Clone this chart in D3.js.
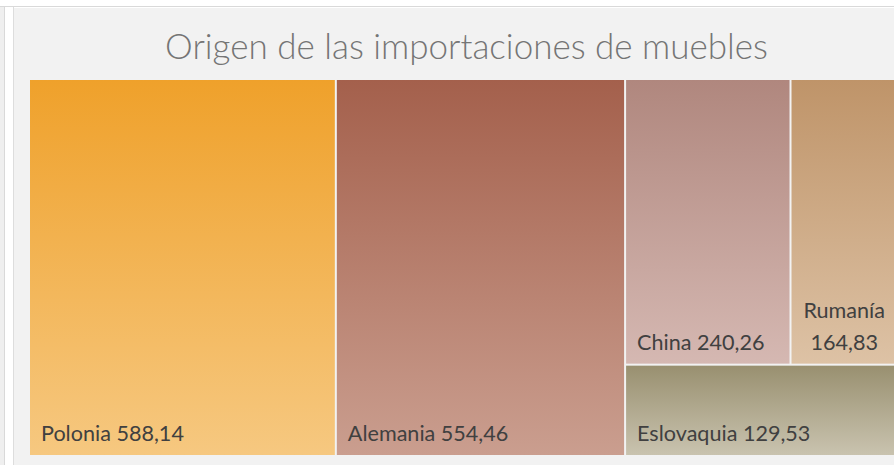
<!DOCTYPE html>
<html><head><meta charset="utf-8">
<script src="https://cdn.jsdelivr.net/npm/d3@7"></script>
<style>html,body{margin:0;padding:0;background:#fff;overflow:hidden}svg{display:block}</style>
</head><body>
<script>
const title = "Origen de las importaciones de muebles";
const categories = ["Polonia", "Alemania", "China", "Rumanía", "Eslovaquia"];
const values = [588.14, 554.46, 240.26, 164.83, 129.53];
const topColors = ["#EFA12B", "#A4604C", "#B0877E", "#BF9469", "#999070"];
const bottomColors = ["#F6C880", "#CA9E8F", "#D5B8B2", "#DDC2A5", "#C9C3AF"];

const W = 894, H = 465;
const svg = d3.select("body").append("svg").attr("width", W).attr("height", H);

// frame
svg.append("rect").attr("x", 0).attr("y", 0).attr("width", W).attr("height", H).attr("fill", "#fff");
svg.append("rect").attr("x", 0).attr("y", 7).attr("width", 4).attr("height", H).attr("fill", "#EFEFEF");
svg.append("rect").attr("x", 14).attr("y", 8).attr("width", W).attr("height", H).attr("fill", "#F2F2F2");
svg.append("line").attr("x1", 0).attr("x2", W).attr("y1", 6.5).attr("y2", 6.5).attr("stroke", "#D9D9D9");
svg.append("line").attr("x1", 4.5).attr("x2", 4.5).attr("y1", 7).attr("y2", H).attr("stroke", "#D9D9D9");
svg.append("line").attr("x1", 13.5).attr("x2", 13.5).attr("y1", 7).attr("y2", H).attr("stroke", "#DDDDDD");

const fmt = v => d3.format(".2f")(v).replace(".", ",");

// hierarchy: Excel-like layout columns
const leaves = categories.map((c, i) => ({name: c, value: values[i], idx: i}));
const data = {children: [
  leaves[0], leaves[1],
  {children: [{children: [leaves[2], leaves[3]]}, leaves[4]]}
]};
const root = d3.hierarchy(data).sum(d => d.value || 0);
d3.treemap().tile(d3.treemapSliceDice).size([873, 375]).paddingInner(2)(root);

const defs = svg.append("defs");
leaves.forEach((d, i) => {
  const g = defs.append("linearGradient").attr("id", "g" + i).attr("x1", 0).attr("y1", 0).attr("x2", 0).attr("y2", 1);
  g.append("stop").attr("offset", "0%").attr("stop-color", topColors[i]);
  g.append("stop").attr("offset", "100%").attr("stop-color", bottomColors[i]);
});

const plot = svg.append("g").attr("transform", "translate(30,80)");
const cells = plot.selectAll("g.cell").data(root.leaves()).join("g").attr("class", "cell");
cells.append("rect")
  .attr("x", d => d.x0).attr("y", d => d.y0)
  .attr("width", d => d.x1 - d.x0).attr("height", d => d.y1 - d.y0)
  .attr("fill", d => `url(#g${d.data.idx})`);

const font = "Lato, 'Open Sans', sans-serif";
// measure label font size
const probe = svg.append("text").attr("font-family", font).attr("font-size", 20).text("Polonia 588,14");
const lblSize = 20 * 143 / probe.node().getComputedTextLength();
probe.remove();

cells.each(function(d) {
  const g = d3.select(this);
  const txt = d.data.name + " " + fmt(d.data.value);
  const t = g.append("text").attr("font-family", font).attr("font-size", lblSize).attr("fill", "#404040").text(txt);
  const w = t.node().getComputedTextLength();
  if (w + 22 > d.x1 - d.x0) {
    t.text(null);
    const cx = (d.x0 + d.x1) / 2 - 3;
    t.attr("text-anchor", "middle");
    t.append("tspan").attr("x", cx).attr("y", d.y1 - 46).text(d.data.name);
    t.append("tspan").attr("x", cx).attr("y", d.y1 - 14).text(fmt(d.data.value));
  } else {
    t.attr("x", d.x0 + 11).attr("y", d.y1 - 14);
  }
});

// title
const tt = svg.append("text").attr("font-family", font).attr("font-weight", 300).attr("font-size", 30)
  .attr("fill", "#757575").attr("text-anchor", "middle").attr("x", 466.5).attr("y", 59).text(title);
const tw = tt.node().getComputedTextLength();
tt.attr("font-size", 30 * 603 / tw);
</script>
</body></html>
